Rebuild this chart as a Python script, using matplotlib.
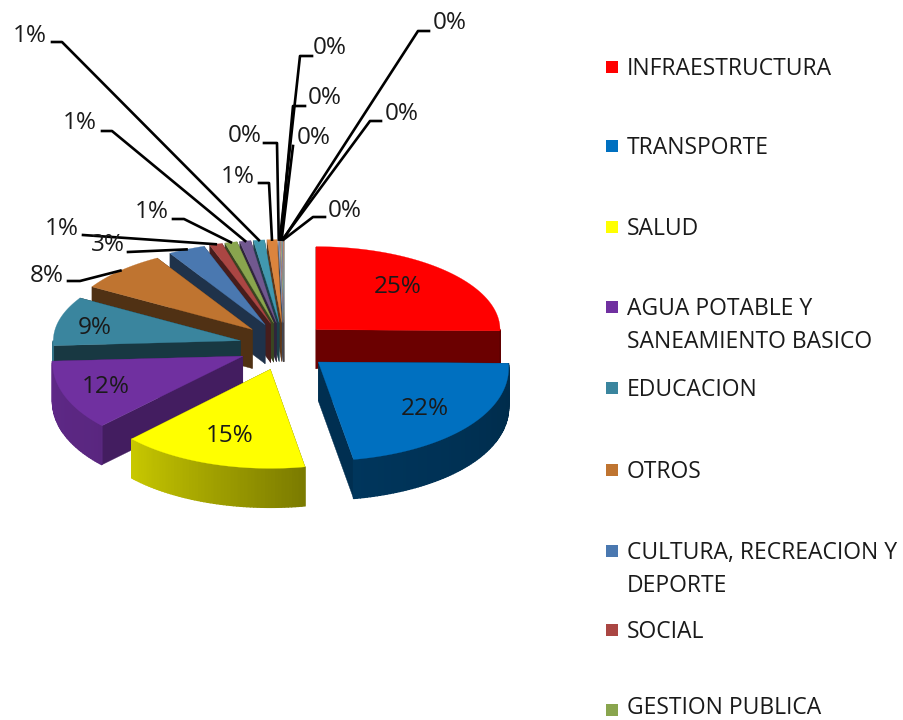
import matplotlib
matplotlib.use("Agg")
import matplotlib.pyplot as plt
import numpy as np
from matplotlib.colors import to_rgb
from matplotlib.patches import Rectangle

plt.rcParams['font.family'] = ['Open Sans', 'DejaVu Sans']

# only the first nine names are visible, the legend is cut off in the original
categories = ["INFRAESTRUCTURA", "TRANSPORTE", "SALUD", "AGUA POTABLE Y\nSANEAMIENTO BASICO", "EDUCACION", "OTROS",
              "CULTURA, RECREACION Y\nDEPORTE", "SOCIAL", "GESTION PUBLICA"]
values = [25.2, 22.0, 15.4, 11.6, 9.4, 7.9, 3.2, 1.1, 1.05, 0.95, 0.95, 0.85, 0.08, 0.07, 0.06, 0.06, 0.05, 0.04, 0.04]
colors = ["#FF0000", "#0070C0", "#FFFF00", "#7030A0", "#3A859E", "#BF7430", "#4A78B0", "#AA4643", "#89A54E",
          "#71588F", "#4198AF", "#DB843D", "#93A9CF", "#D19392", "#B9CD96", "#A99BBD", "#91C3D5", "#F9AA7A", "#7F7F7F"]

# text anchor of each percent label, in pixels
label_pos = [(398, 287), (425, 409), (230, 436), (106, 387), (95, 328), (47, 276), (108, 245), (62, 229), (152, 212),
             (80, 123), (30, 36), (238, 177), (245, 136), (330, 48), (325, 98), (314, 138), (402, 114), (450, 23), (345, 211)]
# elbow of the leader line, None where the label sits on the slice
elbows = [None, None, None, None, None, (68, 80, 281), (128, 128, 252), (83, 83, 235), (173, 184, 219), (102, 112, 131),
          (52, 62, 42), (259, 269, 183), (264, 277, 143), (312, 300, 56), (305, 293, 106), (293, 293, 146), (381, 370, 121),
          (429, 418, 31), (325, 313, 217)]

cx, cy = 284, 346.5      # centre of the pie before the explosion
rx, ry_back, ry_front = 187, 83, 99
explode_x, explode_y = 45, 24
depth = 39
perspective = 0.06     # front of the pie is drawn a bit wider
rx_adjust = {0: -3, 1: 3, 3: 3}

fig = plt.figure(figsize=(9.04, 7.2), dpi=100)
ax = fig.add_axes([0, 0, 1, 1])
ax.set_xlim(0, 904)
ax.set_ylim(720, 0)
ax.axis("off")


def shade(color, f):
    return tuple(c * f for c in to_rgb(color))


def rim(apex, theta, i):
    t = np.radians(theta)
    x = np.sin(t)
    y = -np.cos(t)
    ry = np.where(y < 0, ry_back, ry_front)
    rad = (rx + rx_adjust.get(i, 0)) * (1 + perspective * np.maximum(y, 0))
    return apex[0] + rad * x, apex[1] + ry * y


stops = np.cumsum([0] + values) / sum(values) * 360
slices = []
for i, v in enumerate(values):
    start, end = stops[i], stops[i + 1]
    mid = np.radians((start + end) / 2)
    apex = (cx + explode_x * np.sin(mid), cy - explode_y * np.cos(mid))
    slices.append((-np.cos(mid), i, start, end, apex))

# back slices first, front slices paint over them
for _, i, start, end, apex in sorted(slices):
    color = colors[i]
    # cut faces
    face = 0.6 if i == 3 else 0.42
    for edge in (start, end):
        ox, oy = rim(apex, edge, i)
        ax.fill([apex[0], ox, ox, apex[0]], [apex[1], oy, oy + depth, apex[1] + depth],
                color=shade(color, face), lw=0.3, zorder=2)
    # outer wall, only on the front half
    lo, hi = max(start, 90), min(end, 270)
    if hi > lo:
        th = np.linspace(lo, hi, int(hi - lo) + 2)
        for a, b in zip(th[:-1], th[1:]):
            xa, ya = rim(apex, a, i)
            xb, yb = rim(apex, b, i)
            f = np.interp((a + b) / 2, [90, 170, 228, 270], [0.38, 0.48, 0.8, 0.85])
            ax.fill([xa, xb, xb, xa], [ya, yb, yb + depth, ya + depth], color=shade(color, f), lw=1.0, zorder=2)
    th = np.linspace(start, end, 60)
    xs, ys = rim(apex, th, i)
    ax.fill(np.r_[apex[0], xs], np.r_[apex[1], ys], color=color, lw=0.2, zorder=2)

text_color = "#1a1a1a"
for (_, i, start, end, apex) in slices:
    lx, ly = label_pos[i]
    ax.text(lx, ly, f"{round(values[i])}%", ha="center", va="center", fontsize=17.5, color=text_color, zorder=5)
    if elbows[i] is not None:
        x0, x1, y1 = elbows[i]
        tx, ty = rim(apex, (start + end) / 2, i)
        ax.plot([x0, x1, tx], [y1, y1, ty], color="black", lw=1.9, zorder=4)

# legend
legend_y = [67, 146, 227, 307, 388, 470, 551, 630, 710]
for name, color, y in zip(categories, colors, legend_y):
    ax.add_patch(Rectangle((606, y - 6), 12, 12, color=color, lw=0, zorder=3))
    # last row would run past the bottom edge otherwise
    ax.text(627, min(y - 10, 696), name, ha="left", va="top", fontsize=16.5, color=text_color, linespacing=1.5)

plt.savefig("out.png", dpi=100)
